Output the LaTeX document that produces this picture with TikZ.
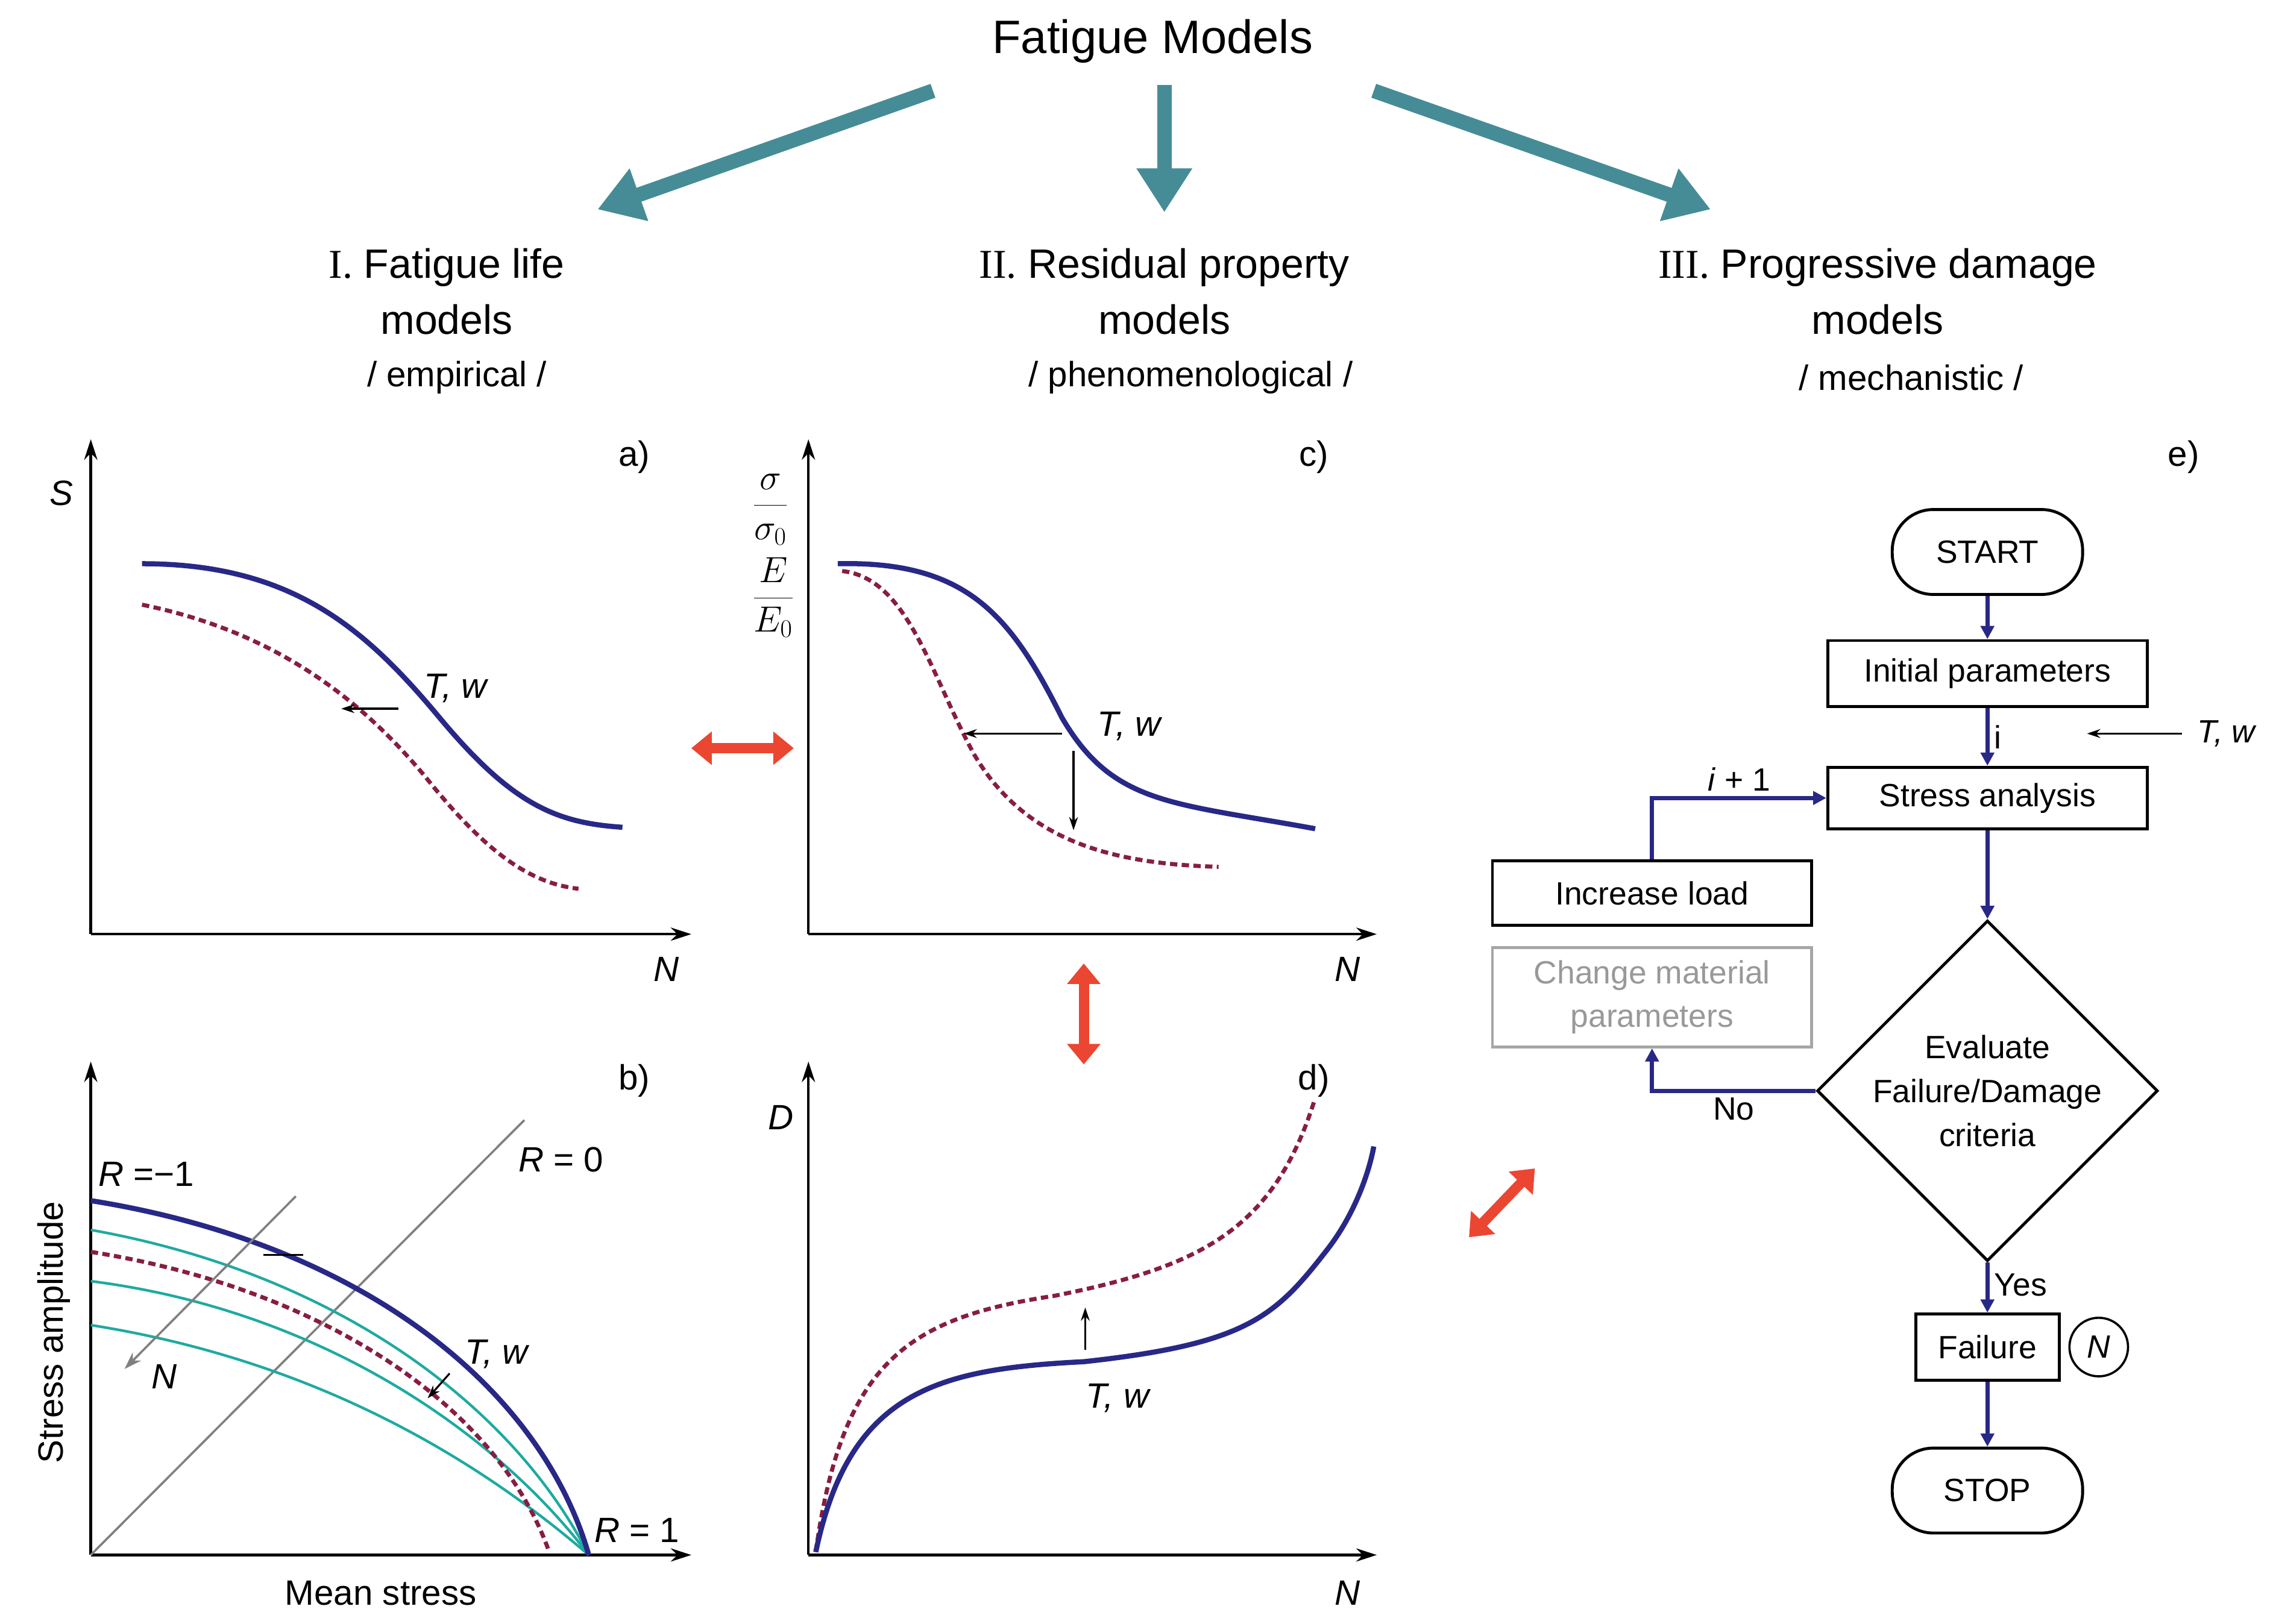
\documentclass[tikz,border=0pt]{standalone}
\usepackage{fontspec}
\setmainfont{Liberation Sans}
\usetikzlibrary{arrows.meta,shapes.geometric,calc}
\definecolor{teal1}{RGB}{70,140,150}
\definecolor{navy}{RGB}{40,40,135}
\definecolor{red1}{RGB}{235,70,50}
\definecolor{maroon}{RGB}{135,30,65}
\definecolor{cyan1}{RGB}{30,170,160}
\begin{document}
\begin{tikzpicture}[x=1pt,y=-1pt,
 big/.style={font=\fontsize{28}{38}\selectfont},
 lab/.style={font=\fontsize{24}{28}\selectfont},
 fl/.style={font=\fontsize{22}{30}\selectfont},
 tarr/.style={teal1,line width=10pt,-{Triangle[length=30pt,width=36pt]}},
 rarr/.style={red1,line width=7pt,{Triangle[length=14pt,width=22pt]}-{Triangle[length=14pt,width=22pt]}},
 ax/.style={line width=1.8pt,-{Stealth[length=14pt,width=9pt]}},
 blue/.style={navy,line width=3.5pt},
 dsh/.style={maroon,line width=2.8pt,dash pattern=on 5pt off 3pt},
 sm/.style={line width=1.3pt,-{Stealth[length=9pt,width=6pt]}},
 box/.style={draw,line width=2pt,fl,minimum width=218pt,inner sep=0pt},
 term/.style={draw,line width=2pt,fl,rounded corners=28pt,minimum width=130pt,minimum height=58pt},
 fa/.style={navy,line width=3pt,-{Triangle[length=9pt,width=9pt]}}]
\useasboundingbox (0,0) rectangle (1552,1109);
\node[font=\fontsize{32}{36}\selectfont] (title) at (787,28) {Fatigue Models};
\coordinate (t1) at (637,62); \coordinate (h1) at (408,143);
\coordinate (t2) at (795,58); \coordinate (h2) at (795,145);
\coordinate (t3) at (938,62); \coordinate (h3) at (1168,143);
\draw[tarr] (t1)--(h1); \draw[tarr] (t2)--(h2); \draw[tarr] (t3)--(h3);
\node[big,align=center] (hI) at (305,199) {{\fontspec{Liberation Serif}I.} Fatigue life\\models};
\node[lab] at (312,258) {/ empirical /};
\node[big,align=center] (hII) at (795,199) {{\fontspec{Liberation Serif}II.} Residual property\\models};
\node[lab] at (813,258) {/ phenomenological /};
\node[big,align=center] (hIII) at (1282,199) {{\fontspec{Liberation Serif}III.} Progressive damage\\models};
\node[lab] at (1305,258) {/ mechanistic /};
% panel a
\draw[ax] (62,638)--(62,300); \draw[ax] (62,638)--(472,638);
\node[lab,font=\itshape\fontsize{24}{28}\selectfont] at (42,337) {S};
\node[lab] at (433,312) {a)};
\node[lab,font=\itshape\fontsize{24}{28}\selectfont] at (455,662) {N};
\draw[blue] (97,385) .. controls (200,385) and (250,430) .. (300,490) .. controls (350,550) and (380,562) .. (425,565);
\draw[dsh] (97,413) .. controls (180,430) and (240,470) .. (290,530) .. controls (330,580) and (360,603) .. (395,607);
\coordinate (a1) at (272,484); \coordinate (a2) at (233,484);
\draw[sm] (a1)--(a2);
\node[lab,font=\itshape\fontsize{24}{28}\selectfont] at (311,470) {T, w};
\coordinate (r1) at (472,511); \coordinate (r2) at (542,511); \draw[rarr] (r1)--(r2);
% panel c
\draw[ax] (552,638)--(552,300); \draw[ax] (552,638)--(940,638);
\node[lab] at (897,312) {c)};
\node[lab,font=\itshape\fontsize{24}{28}\selectfont] at (920,662) {N};
\node[font=\fontsize{26}{26}\selectfont,inner sep=0pt] at (526,348) {$\displaystyle\frac{\sigma}{\sigma_0}$};
\node[font=\fontsize{26}{26}\selectfont,inner sep=0pt] at (528,408) {$\displaystyle\frac{E}{E_0}$};
\draw[blue] (572,385) .. controls (660,383) and (690,420) .. (725,490) .. controls (760,550) and (800,548) .. (898,566);
\draw[dsh] (575,390) .. controls (620,395) and (635,460) .. (665,515) .. controls (700,575) and (760,590) .. (832,592);
\coordinate (c1) at (725,501); \coordinate (c2) at (658,501); \draw[sm] (c1)--(c2);
\coordinate (c3) at (733,513); \coordinate (c4) at (733,567); \draw[sm] (c3)--(c4);
\node[lab,font=\itshape\fontsize{24}{28}\selectfont] at (771,496) {T, w};
\coordinate (r3) at (740,658); \coordinate (r4) at (740,727); \draw[rarr] (r3)--(r4);
% panel b
\draw[ax] (62,1062)--(62,725); \draw[ax] (62,1062)--(472,1062);
\node[lab] at (433,738) {b)};
\node[lab] at (260,1088) {Mean stress};
\node[lab,rotate=90] at (37,910) {Stress amplitude};
\coordinate (o) at (62,1062); \coordinate (rz) at (358,765);
\draw[gray,line width=1.5pt] (o)--(rz);
\node[lab,font=\fontsize{24}{28}\selectfont] at (383,792) {\textit{R} = 0};
\node[lab] at (100,802) {\textit{R} =−1};
\node[lab] at (435,1045) {\textit{R} = 1};
\draw[cyan1,line width=1.8pt] (62,840) .. controls (230,870) and (350,960) .. (402,1062);
\draw[cyan1,line width=1.8pt] (62,875) .. controls (220,895) and (340,980) .. (402,1062);
\draw[cyan1,line width=1.8pt] (62,905) .. controls (220,930) and (330,1000) .. (402,1062);
\draw[dsh] (62,855) .. controls (220,880) and (340,960) .. (375,1060);
\draw[blue] (62,820) .. controls (250,850) and (370,950) .. (402,1062);
\coordinate (g1) at (202,817); \coordinate (g2) at (85,935);
\draw[gray,line width=1.5pt,-{Stealth[length=12pt,width=8pt]}] (g1)--(g2);
\node[lab,font=\itshape\fontsize{24}{28}\selectfont] at (112,940) {N};
\draw[line width=1.2pt] (180,857)--(207,857);
\coordinate (b1) at (307,938); \coordinate (b2) at (292,955); \draw[sm] (b1)--(b2);
\node[lab,font=\itshape\fontsize{24}{28}\selectfont] at (339,925) {T, w};
% panel d
\draw[ax] (552,1062)--(552,725); \draw[ax] (552,1062)--(940,1062);
\node[lab,font=\itshape\fontsize{24}{28}\selectfont] at (533,763) {D};
\node[lab] at (897,738) {d)};
\node[lab,font=\itshape\fontsize{24}{28}\selectfont] at (920,1088) {N};
\draw[dsh] (557,1060) .. controls (575,930) and (620,900) .. (720,885) .. controls (820,865) and (870,840) .. (898,750);
\draw[blue] (557,1060) .. controls (580,950) and (640,935) .. (740,930) .. controls (850,918) and (870,900) .. (905,855) .. controls (925,830) and (935,800) .. (938,783);
\coordinate (d1) at (741,922); \coordinate (d2) at (741,893); \draw[sm] (d1)--(d2);
\node[lab,font=\itshape\fontsize{24}{28}\selectfont] at (763,955) {T, w};
\coordinate (r5) at (1003,845); \coordinate (r6) at (1048,798); \draw[rarr] (r5)--(r6);
% flowchart
\node[lab] at (1491,312) {e)};
\node[term] (start) at (1357,377) {START};
\node[box,minimum height=45pt] (init) at (1357,460) {Initial parameters};
\node[box,minimum height=42pt] (stress) at (1357,545) {Stress analysis};
\node[diamond,draw,line width=2pt,fl,minimum width=230pt,minimum height=226pt,inner sep=0pt,align=center,aspect=1] (eval) at (1357,745) {Evaluate\\Failure/Damage\\criteria};
\node[draw,line width=2pt,fl,minimum width=98pt,minimum height=45pt] (fail) at (1357,920) {Failure};
\node[draw,circle,line width=1.5pt,minimum size=40pt,inner sep=0pt,fl,font=\itshape\fontsize{22}{26}\selectfont] (nc) at (1433,920) {N};
\node[term] (stop) at (1357,1018) {STOP};
\node[box,minimum height=44pt] (inc) at (1128,610) {Increase load};
\node[box,draw=gray!70,text=gray!80,minimum height=68pt,align=center] (chg) at (1128,681) {Change material\\parameters};
\draw[fa] (start)--(init);
\draw[fa] (init)--node[right,fl,black]{i}(stress);
\draw[fa] (stress)--(eval);
\draw[fa] (eval)--node[right,fl,black,pos=0.45]{Yes}(fail);
\draw[fa] (fail)--(stop);
\draw[fa] (eval.west) -| node[pos=0.25,below,fl,black]{No} (chg.south);
\draw[fa] (inc.north) |- node[pos=0.75,above,fl,black]{\textit{i} + 1} (stress.west);
\coordinate (tw) at (1490,501); \coordinate (tw2) at (1425,501);
\draw[sm,line width=1.5pt] (tw)--(tw2);
\node[fl,font=\itshape\fontsize{22}{26}\selectfont] at (1520,501) {T, w};
\end{tikzpicture}
\end{document}
